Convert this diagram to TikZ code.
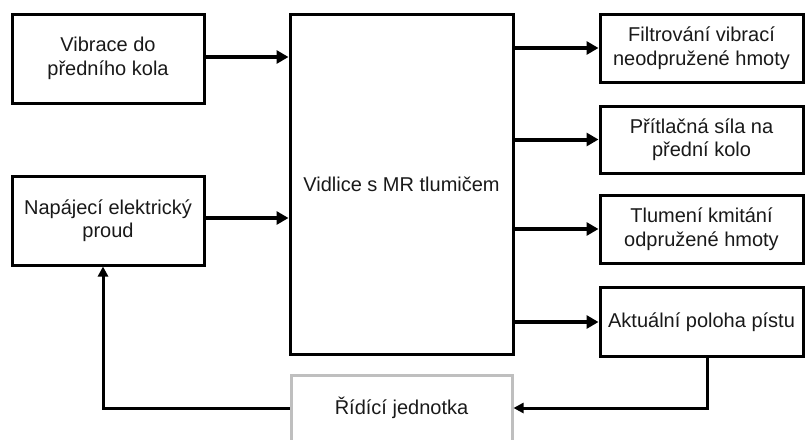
\documentclass[tikz,border=0pt]{standalone}
\usepackage{fontspec}
\setmainfont{Liberation Sans}
\usetikzlibrary{arrows.meta}
\begin{document}
\begin{tikzpicture}[x=1pt,y=-1pt,
  blk/.style={draw=black,line width=3pt,rectangle,inner sep=0pt,align=center,
    font=\fontsize{20}{23.5}\selectfont,text=black!90},
  gblk/.style={blk,draw=black!25},
  arr/.style={line width=4pt,-{Triangle[length=12pt,width=13pt]}},
  farr/.style={line width=3pt,-{Triangle[length=10pt,width=10pt]}}]
\useasboundingbox (0,0) rectangle (805,439);
\clip (0,0) rectangle (805,439);
\node[blk,minimum width=192,minimum height=89] (A) at (108,58.5) {Vibrace do\\předního kola};
\node[blk,minimum width=192,minimum height=89] (B) at (108,220.5) {Napájecí elektrický\\proud};
\node[blk,minimum width=223,minimum height=340] (M) at (401.5,184) {Vidlice s MR tlumičem};
\node[blk,minimum width=203,minimum height=68] (R1) at (701.5,48) {Filtrování vibrací\\neodpružené hmoty};
\node[blk,minimum width=203,minimum height=67] (R2) at (701.5,139.5) {Přítlačná síla na\\přední kolo};
\node[blk,minimum width=203,minimum height=68] (R3) at (701.5,229) {Tlumení kmitání\\odpružené hmoty};
\node[blk,minimum width=203,minimum height=69] (R4) at (701.5,322) {Aktuální poloha pístu};
\node[gblk,minimum width=221,minimum height=66] (C) at (401.5,408) {Řídící jednotka};
\draw[arr] (A.east |- 0,57) -- (M.west |- 0,57);
\draw[arr] (B.east |- 0,218) -- (M.west |- 0,218);
\draw[arr] (M.east |- R1) -- (R1.west);
\draw[arr] (M.east |- R2) -- (R2.west);
\draw[arr] (M.east |- R3) -- (R3.west);
\draw[arr] (M.east |- R4) -- (R4.west);
\coordinate (f1) at (707,408);
\coordinate (f2) at (103,408);
\draw[farr] (R4.south -| f1) -- (f1) -- (C.east);
\draw[farr] (C.west) -- (f2) -- (B.south -| f2);
\end{tikzpicture}
\end{document}
